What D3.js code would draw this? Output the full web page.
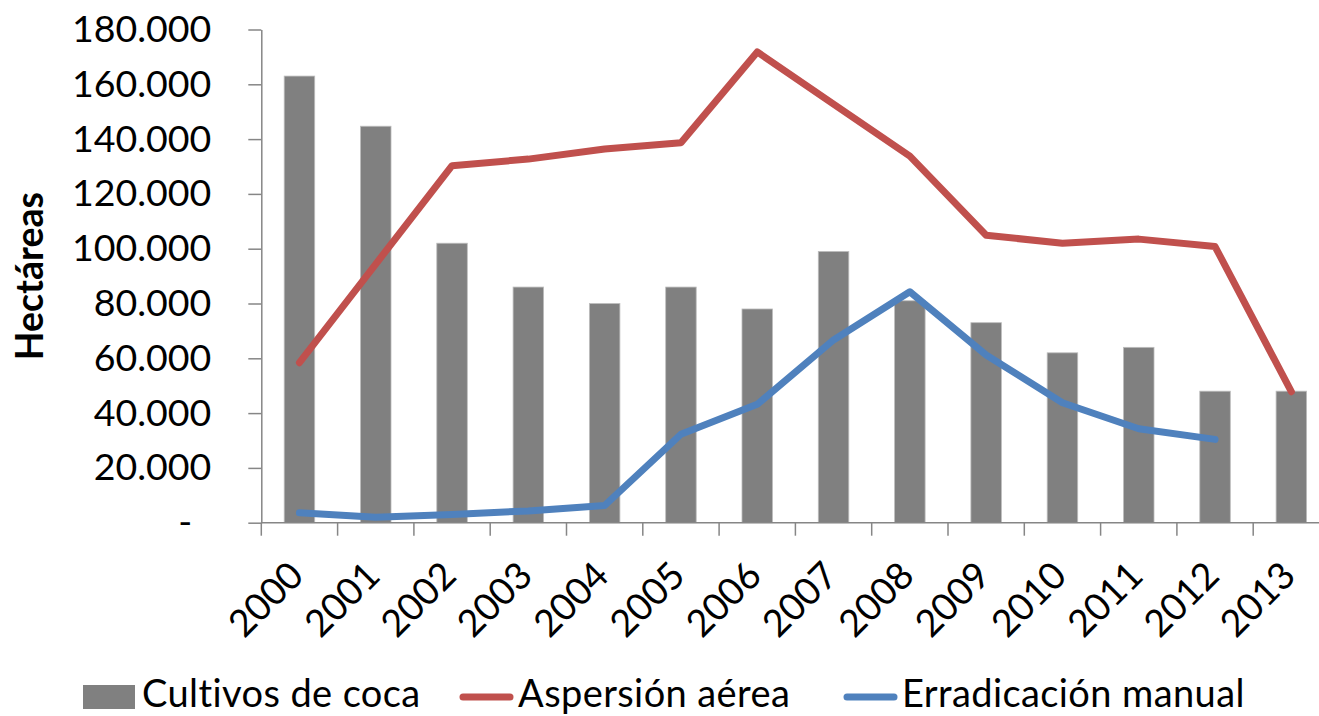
<!DOCTYPE html>
<html>
<head>
<meta charset="utf-8">
<script src="https://cdn.jsdelivr.net/npm/d3@7"></script>
<style>
  html, body { margin: 0; padding: 0; background: #fff; }
  svg { display: block; font-family: Lato, "Open Sans", sans-serif; }
</style>
</head>
<body>
<div id="chart"></div>
<script>
// Años (categorías del eje x)
const years = ['2000', '2001', '2002', '2003', '2004', '2005', '2006',
  '2007', '2008', '2009', '2010', '2011', '2012', '2013'];
// Hectáreas de cultivos de coca (barras)
const cultivos = [163000, 144700, 102000, 86000, 80000, 86000, 78000,
  99000, 81000, 73000, 62000, 64000, 48000, 48000];
// Hectáreas asperjadas (línea roja)
const aspersion = [58400, 94400, 130300, 132700, 136400, 138700, 171800,
  152800, 133800, 104900, 102000, 103500, 100800, 47800];
// Erradicación manual (línea azul), no hay dato para 2013
const manual = [3600, 2000, 3000, 4300, 6300, 32300, 43200,
  66700, 84300, 61200, 43800, 34300, 30400, null];
// Marcas del eje y
const yTicks = [0, 20000, 40000, 60000, 80000, 100000, 120000, 140000, 160000, 180000];

const legendItems = [
  { name: 'Cultivos de coca', type: 'bar', color: '#808080', x: 83 },
  { name: 'Aspersión aérea', type: 'line', color: '#C0504D', x: 459 },
  { name: 'Erradicación manual', type: 'line', color: '#4F81BD', x: 843 },
];

const W = 1319;
const H = 716;
const plot = { left: 261.3, top: 29.5, bottom: 522.7, right: 1329.5 };
const fontSize = 37.5;
const axisColor = '#868686';

// Formato con punto como separador de miles
const locale = d3.formatLocale({ decimal: ',', thousands: '.', grouping: [3], currency: ['', ''] });
const fmt = locale.format(',d');

const svg = d3.select('#chart')
  .append('svg')
  .attr('width', W)
  .attr('height', H)
  .style('overflow', 'hidden');

const xScale = d3.scaleBand()
  .domain(years)
  .range([plot.left, plot.right])
  .padding(0);

const yScale = d3.scaleLinear()
  .domain([0, 180000])
  .range([plot.bottom, plot.top]);

const step = xScale.bandwidth();
const barW = step * 0.4;
const cx = (y) => xScale(y) + step / 2;

// Barras
svg.append('g')
  .selectAll('rect')
  .data(years.map((y, i) => ({ year: y, value: cultivos[i] })))
  .enter()
  .append('rect')
  .attr('x', (d) => cx(d.year) - barW / 2)
  .attr('width', barW)
  .attr('y', (d) => yScale(d.value))
  .attr('height', (d) => yScale(0) - yScale(d.value))
  .attr('fill', '#808080')
  .attr('stroke', '#bdbdbd')
  .attr('stroke-width', 0.8);

// Eje y
const yAxis = svg.append('g')
  .attr('transform', `translate(${plot.left},0)`)
  .call(d3.axisLeft(yScale)
    .tickValues(yTicks)
    .tickSize(13)
    .tickSizeOuter(0)
    .tickPadding(37)
    .tickFormat((d) => (d === 0 ? '-' : fmt(d))));
yAxis.select('.domain').attr('stroke', axisColor).attr('stroke-width', 1.5);
yAxis.selectAll('.tick line').attr('stroke', axisColor).attr('stroke-width', 1.5);
yAxis.selectAll('.tick text')
  .attr('fill', '#000')
  .style('font-size', fontSize + 'px')
  .style('font-family', 'Lato, sans-serif')
  .attr('dx', (d) => (d === 0 ? -19 : 0));

// Eje x: línea y marcas entre categorías
const xAxis = svg.append('g');
xAxis.append('line')
  .attr('x1', plot.left)
  .attr('x2', plot.right)
  .attr('y1', yScale(0))
  .attr('y2', yScale(0))
  .attr('stroke', axisColor)
  .attr('stroke-width', 1.5);
xAxis.selectAll('.xtick')
  .data(years.concat(['end']))
  .enter()
  .append('line')
  .attr('class', 'xtick')
  .attr('x1', (d) => (d === 'end' ? plot.right : xScale(d)))
  .attr('x2', (d) => (d === 'end' ? plot.right : xScale(d)))
  .attr('y1', yScale(0))
  .attr('y2', yScale(0) + 13)
  .attr('stroke', axisColor)
  .attr('stroke-width', 1.5);
xAxis.selectAll('.xlabel')
  .data(years)
  .enter()
  .append('text')
  .attr('class', 'xlabel')
  .attr('transform', (d) => `translate(${cx(d) - 3},${568.5}) rotate(-45)`)
  .attr('text-anchor', 'end')
  .attr('dy', '0.35em')
  .style('font-size', fontSize + 'px')
  .text((d) => d);

// Líneas
const line = d3.line()
  .defined((d) => d.value !== null)
  .x((d) => cx(d.year))
  .y((d) => yScale(d.value));

[[aspersion, '#C0504D'], [manual, '#4F81BD']].forEach(([values, color]) => {
  svg.append('path')
    .datum(years.map((y, i) => ({ year: y, value: values[i] })))
    .attr('d', line)
    .attr('fill', 'none')
    .attr('stroke', color)
    .attr('stroke-width', 7)
    .attr('stroke-linejoin', 'round')
    .attr('stroke-linecap', 'round');
});

// Título del eje y
svg.append('text')
  .attr('transform', `translate(43,${(plot.top + plot.bottom) / 2}) rotate(-90)`)
  .attr('text-anchor', 'middle')
  .style('font-size', fontSize + 'px')
  .style('font-weight', 'bold')
  .text('Hectáreas');

// Leyenda
const legend = svg.append('g');
const baseY = 707;
legendItems.forEach((item) => {
  if (item.type === 'bar') {
    legend.append('rect')
      .attr('x', item.x)
      .attr('y', 685)
      .attr('width', 52)
      .attr('height', 24)
      .attr('fill', item.color);
  } else {
    legend.append('line')
      .attr('x1', item.x + 4)
      .attr('x2', item.x + 51)
      .attr('y1', 697)
      .attr('y2', 697)
      .attr('stroke', item.color)
      .attr('stroke-width', 7)
      .attr('stroke-linecap', 'round');
  }
  legend.append('text')
    .attr('x', item.x + 59)
    .attr('y', baseY)
    .style('font-size', '38px')
    .style('letter-spacing', '0.4px')
    .text(item.name);
});
</script>
</body>
</html>
